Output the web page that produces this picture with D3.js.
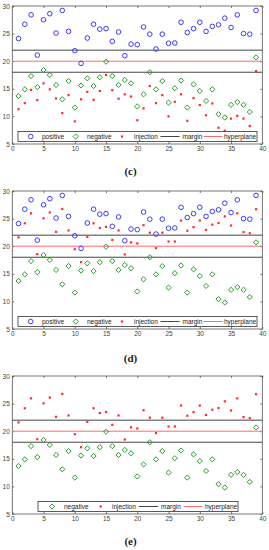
<!DOCTYPE html>
<html>
<head>
<meta charset="utf-8">
<script src="https://cdn.jsdelivr.net/npm/d3@7"></script>
<style>
  body { margin: 0; background: #fff; }
  svg text { font-family: "Liberation Sans", Arial, sans-serif; }
</style>
</head>
<body>
<svg id="chart" width="269" height="550"></svg>
<script>
// sample index 1..39
const idx = d3.range(1, 40);

const positive = [24.1, 26.7, 28.4, 21.1, 27.5, 28.6, 25.1, 29.2, 25.4, 21.9,
  19.6, 24.2, 26.7, 25.8, 25.9, 23.6, 25.3, 21.0, 23.1, 23.0,
  26.2, 24.9, 22.2, 24.9, 23.25, 23.3, 27.05, 25.2, 25.9, 27.05,
  25.4, 26.3, 26.6, 27.8, 26.1, 28.4, 25.0, 24.9, 29.2];

const negative = [13.7, 14.9, 17.3, 15.3, 18.4, 17.5, 15.7, 13.1, 16.4, 11.6,
  15.6, 16.9, 15.5, 17.1, 19.9, 17.3, 15.7, 16.6, 16.0, 11.8,
  14.0, 18.0, 14.9, 16.4, 12.5, 15.1, 16.5, 11.6, 15.8, 14.6,
  12.8, 14.9, 10.4, 9.8, 12.1, 12.6, 12.1, 10.8, 20.7];

// injection attempt in (c): below the margin
const injectionLow = [11.3, 12.4, 14.8, 12.95, 16.0, 14.9, 13.25, 10.6, 13.85, 9.1,
  13.1, 14.45, 13.0, 14.6, 17.5, 14.75, 13.2, 14.0, 13.6, 9.3,
  11.45, 15.5, 12.4, 13.85, 10.0, 12.65, 14.0, 9.2, 13.3, 12.05,
  10.2, 12.35, 7.95, 7.4, 9.6, 10.1, 9.6, 8.25, 18.2];

// injection in (d) and (e): pushed into the positive side
const injectionHigh = [21.6, 24.15, 25.95, 18.55, 25.05, 26.1, 22.6, 26.75, 22.85, 19.45,
  17.1, 21.7, 24.15, 23.3, 23.5, 21.15, 22.85, 18.5, 20.7, 20.5,
  23.8, 22.45, 19.65, 22.45, 20.85, 20.85, 24.65, 22.8, 23.45, 24.65,
  22.95, 23.9, 24.2, 25.4, 23.75, 25.95, 22.55, 22.35, 26.7];

const margins = [18, 22];
const hyperplane = 20;
const xTicks = [0, 5, 10, 15, 20, 25, 30, 35, 40];
const yTicks = [5, 10, 15, 20, 25, 30];

const BLUE = "#3a3aff", GREEN = "#23a023", RED = "#ff2a2a",
      HYP = "#ff6a6a", MARG = "#444", AXIS = "#555";

const svg = d3.select("#chart");

const panels = [
  { top: 6, caption: "(c)", capY: 171, pos: true, inj: injectionLow, legendX: 18,
    legend: ["positive", "negative", "injection", "margin", "hyperplane"] },
  { top: 191, caption: "(d)", capY: 358, pos: true, inj: injectionHigh, legendX: 18,
    legend: ["positive", "negative", "injection", "margin", "hyperplane"] },
  { top: 376, caption: "(e)", capY: 541, pos: false, inj: injectionHigh, legendX: 38,
    legend: ["negative", "injection", "margin", "hyperplane"] }
];

const left = 12.3, right = 262.3, plotH = 138;

function drawMarker(g, type, cx, cy) {
  if (type === "positive") {
    g.append("circle").attr("cx", cx).attr("cy", cy).attr("r", 2.3)
      .attr("fill", "none").attr("stroke", BLUE).attr("stroke-width", 1);
  } else if (type === "negative") {
    const d = 2.6;
    g.append("path")
      .attr("d", `M${cx},${cy - d}L${cx + d},${cy}L${cx},${cy + d}L${cx - d},${cy}Z`)
      .attr("fill", "none").attr("stroke", GREEN).attr("stroke-width", 1);
  } else if (type === "injection") {
    g.append("rect").attr("x", cx - 1.1).attr("y", cy - 1.1)
      .attr("width", 2.2).attr("height", 2.2).attr("fill", RED);
  } else {
    g.append("line").attr("x1", cx - 9.5).attr("x2", cx + 9.5)
      .attr("y1", cy).attr("y2", cy)
      .attr("stroke", type === "margin" ? MARG : HYP).attr("stroke-width", 1);
  }
}

panels.forEach(p => {
  const x = d3.scaleLinear().domain([0, 40]).range([left, right]);
  const y = d3.scaleLinear().domain([5, 30]).range([p.top + plotH, p.top]);
  const g = svg.append("g");

  // box
  g.append("rect").attr("x", left).attr("y", p.top)
    .attr("width", right - left).attr("height", plotH)
    .attr("fill", "none").attr("stroke", AXIS).attr("stroke-width", 0.8);

  // axes with inward ticks
  const fmt = d3.format("d");
  const xa = g.append("g").attr("transform", `translate(0,${p.top + plotH})`)
    .call(d3.axisBottom(x).tickValues(xTicks).tickFormat(fmt).tickSize(-2).tickPadding(3));
  const xt = g.append("g").attr("transform", `translate(0,${p.top})`)
    .call(d3.axisTop(x).tickValues(xTicks).tickFormat("").tickSize(-2));
  const ya = g.append("g").attr("transform", `translate(${left},0)`)
    .call(d3.axisLeft(y).tickValues(yTicks).tickFormat(fmt).tickSize(-2).tickPadding(2.5));
  const yr = g.append("g").attr("transform", `translate(${right},0)`)
    .call(d3.axisRight(y).tickValues(yTicks).tickFormat("").tickSize(-2));
  [xa, xt, ya, yr].forEach(a => {
    a.select(".domain").remove();
    a.selectAll("line").attr("stroke", AXIS).attr("stroke-width", 0.8);
    a.selectAll("text").attr("fill", "#444").style("font-size", "6.5px")
      .style("font-family", "'Liberation Sans', Arial, sans-serif");
  });
  xa.selectAll("text").attr("dy", "0.6em");

  // margin + hyperplane
  margins.forEach(m => {
    g.append("line").attr("x1", left).attr("x2", right)
      .attr("y1", y(m)).attr("y2", y(m))
      .attr("stroke", MARG).attr("stroke-width", 1);
  });
  g.append("line").attr("x1", left).attr("x2", right)
    .attr("y1", y(hyperplane)).attr("y2", y(hyperplane))
    .attr("stroke", HYP).attr("stroke-width", 1);

  // points
  if (p.pos) positive.forEach((v, i) => drawMarker(g, "positive", x(idx[i]), y(v)));
  negative.forEach((v, i) => drawMarker(g, "negative", x(idx[i]), y(v)));
  p.inj.forEach((v, i) => drawMarker(g, "injection", x(idx[i]), y(v)));

  // legend
  const lg = g.append("g");
  const lw = p.legend.length === 5 ? 239 : 200;
  const ly = p.top + plotH - 12.5;
  lg.append("rect").attr("x", p.legendX).attr("y", ly)
    .attr("width", lw).attr("height", 10)
    .attr("fill", "#fff").attr("stroke", "#333").attr("stroke-width", 0.8);
  const offsets = p.legend.length === 5
    ? { positive: [12.7, 24], negative: [57.7, 69], injection: [104, 116], margin: [152, 164.5], hyperplane: [195, 206] }
    : { negative: [14, 26], injection: [62.7, 74], margin: [110.5, 123], hyperplane: [155, 167] };
  p.legend.forEach(name => {
    const [mx, tx] = offsets[name];
    drawMarker(lg, name, p.legendX + mx, ly + 5);
    lg.append("text").attr("x", p.legendX + tx).attr("y", ly + 5)
      .attr("dy", "0.35em").attr("fill", "#222")
      .style("font-size", "6.5px").text(name);
  });

  // caption
  svg.append("text").attr("x", 130.5).attr("y", p.capY).attr("dy", "0.35em")
    .attr("text-anchor", "middle")
    .style("font-family", "'Liberation Serif', 'Times New Roman', serif")
    .style("font-weight", "bold").style("font-size", "11px")
    .attr("fill", "#222").text(p.caption);
});
</script>
</body>
</html>
